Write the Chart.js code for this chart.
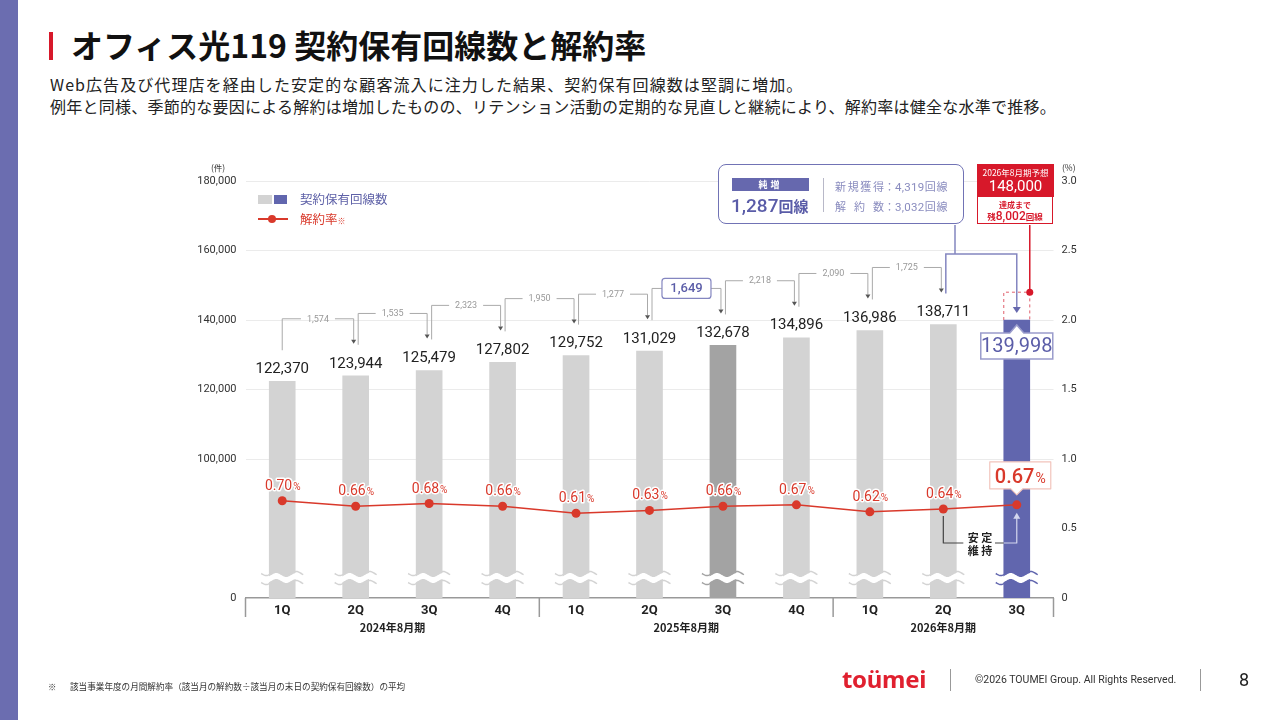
<!DOCTYPE html>
<html lang="ja">
<head>
<meta charset="utf-8">
<script src="https://cdn.jsdelivr.net/npm/chart.js@4.4.1/dist/chart.umd.min.js"></script>
<style>
  html,body{margin:0;padding:0;background:#fff;}
  body{width:1280px;height:720px;position:relative;overflow:hidden;font-family:"Noto Sans CJK JP","Noto Sans",sans-serif;color:#222;}
  .abs{position:absolute;white-space:nowrap;}
  #cv{position:absolute;left:0;top:0;}
  .jl{display:inline-block;text-align:justify;text-align-last:justify;letter-spacing:0;}
</style>
</head>
<body>
<div class="abs" style="left:0;top:0;width:18px;height:720px;background:#6b6db0;"></div>
<div class="abs" style="left:49px;top:32px;width:4px;height:28px;background:#d7182a;"></div>
<div class="abs" style="left:71px;top:26px;font-size:32px;line-height:36px;font-weight:700;color:#111;">オフィス光119 契約保有回線数と解約率</div>
<div class="abs" style="left:50px;top:73px;font-size:16px;line-height:22px;color:#222;"><span style="letter-spacing:1.08px;">Web広告及び代理店を経由した安定的な顧客流入に注力した結果、契約保有回線数は堅調に増加。</span><br><span style="letter-spacing:0.25px;">例年と同様、季節的な要因による解約は増加したものの、リテンション活動の定期的な見直しと継続により、解約率は健全な水準で推移。</span></div>

<canvas id="cv" width="1280" height="720"></canvas>

<!-- axis units -->
<div class="abs" style="left:211px;top:161px;font-size:8.5px;color:#333;">(件)</div>
<div class="abs" style="left:1062px;top:161px;font-size:8.5px;color:#333;">(%)</div>

<!-- legend -->
<div class="abs" style="left:258px;top:195px;width:14px;height:9px;background:#d3d3d3;"></div>
<div class="abs" style="left:274px;top:195px;width:13px;height:9px;background:#6166ae;"></div>
<div class="abs" style="left:300px;top:190px;font-size:12.5px;line-height:18px;color:#5f62a8;">契約保有回線数</div>
<div class="abs" style="left:258px;top:218px;width:30px;height:2px;background:#d9392b;"></div>
<div class="abs" style="left:268px;top:215px;width:8px;height:8px;border-radius:50%;background:#d9392b;"></div>
<div class="abs" style="left:300px;top:210px;font-size:12.5px;line-height:18px;color:#d9392b;">解約率<span style="font-size:8px;">※</span></div>

<!-- net increase box -->
<div class="abs" style="left:718px;top:164px;width:244px;height:58px;border:1.5px solid #7173b5;border-radius:8px;background:#fff;"></div>
<div class="abs" style="left:732px;top:178px;width:77px;height:13px;background:#6668ae;color:#fff;font-size:9px;line-height:13px;text-align:center;font-weight:700;letter-spacing:3px;">純増</div>
<div class="abs" style="left:731px;top:192px;line-height:26px;color:#5a5ca8;"><span style="font-family:Roboto;font-size:19px;font-weight:500;">1,287</span><span style="font-size:15px;font-weight:700;">回線</span></div>
<div class="abs" style="left:823px;top:178px;width:1px;height:34px;background:#b8b8c8;"></div>
<div class="abs" style="left:835px;top:177px;font-size:11px;line-height:19px;color:#8a8cbf;">
  <span class="jl" style="width:49px;">新規獲得</span>：<span style="font-family:Roboto;letter-spacing:0.3px;font-size:11.5px;">4,319</span><span style="letter-spacing:1px;">回線</span><br>
  <span class="jl" style="width:49px;">解約数</span>：<span style="font-family:Roboto;letter-spacing:0.3px;font-size:11.5px;">3,032</span><span style="letter-spacing:1px;">回線</span></div>

<!-- forecast box -->
<div class="abs" style="left:977px;top:164px;width:77px;height:33px;background:#d7182a;color:#fff;text-align:center;">
  <div style="font-size:8.5px;line-height:12px;margin-top:2px;">2026年8月期予想</div>
  <div style="font-family:Roboto;font-size:15px;line-height:17px;">148,000</div>
</div>
<div class="abs" style="left:977px;top:197px;width:74px;height:26px;border:1.5px solid #d7182a;border-top:none;background:#fff;color:#d7182a;text-align:center;">
  <div style="font-size:8px;line-height:11px;margin-top:2px;font-weight:700;">達成まで</div>
  <div style="font-size:8.5px;line-height:12px;font-weight:700;">残<span style="font-family:Roboto;font-size:12px;font-weight:500;">8,002</span>回線</div>
</div>

<!-- footer -->
<div class="abs" style="left:48px;top:680px;font-size:8.4px;line-height:12px;color:#333;">※</div>
<div class="abs" style="left:70px;top:680px;font-size:8.6px;line-height:12px;color:#333;">該当事業年度の月間解約率（該当月の解約数÷該当月の末日の契約保有回線数）の平均</div>
<div class="abs" style="left:842px;top:664px;font-family:'Noto Sans';font-size:24px;line-height:30px;font-weight:700;color:#e0202f;letter-spacing:-0.3px;">toümei</div>
<div class="abs" style="left:950px;top:669px;width:1px;height:22px;background:#999;"></div>
<div class="abs" style="left:975px;top:673px;font-family:Roboto;font-size:10.5px;line-height:14px;color:#333;">©2026 TOUMEI Group. All Rights Reserved.</div>
<div class="abs" style="left:1200px;top:669px;width:1px;height:22px;background:#999;"></div>
<div class="abs" style="left:1239px;top:667px;font-family:Roboto;font-size:18px;line-height:26px;color:#222;">8</div>

<script>
// ---- data ----
const quarters = ['1Q','2Q','3Q','4Q','1Q','2Q','3Q','4Q','1Q','2Q','3Q'];
const fiscalYears = ['2024年8月期','2025年8月期','2026年8月期'];
const fiscalGroupSizes = [4,4,3];
const lineCounts = [122370,123944,125479,127802,129752,131029,132678,134896,136986,138711,139998];
const churnRates = [0.70,0.66,0.68,0.66,0.61,0.63,0.66,0.67,0.62,0.64,0.67];
const increments = [1574,1535,2323,1950,1277,1649,2218,2090,1725];
const forecastTarget = 148000;
const leftTicks = [60000,80000,100000,120000,140000,160000,180000];
const leftTickLabels = ['0','','100,000','120,000','140,000','160,000','180,000'];

// ---- style ----
const GRAY = '#d3d3d3', DARK = '#a3a3a3', PURPLE = '#6166ae', RED = '#d9392b';
const barColors = lineCounts.map((v,i)=> i===lineCounts.length-1 ? PURPLE : (i===6 ? DARK : GRAY));
const NUM = 'Roboto, "Noto Sans", sans-serif';
const JP = '"Noto Sans CJK JP", sans-serif';
const fmt = v => v.toLocaleString('en-US');

function wave(ctx, x0, x1, y, amp, period){
  ctx.moveTo(x0, y);
  for(let x=x0; x<=x1; x+=1){
    ctx.lineTo(x, y + amp*Math.sin((x-x0)/period*2*Math.PI));
  }
}
function arrowDown(ctx, x, y, w, h, color){
  ctx.fillStyle=color; ctx.beginPath();
  ctx.moveTo(x-w/2, y-h); ctx.lineTo(x+w/2, y-h); ctx.lineTo(x, y); ctx.closePath(); ctx.fill();
}
function arrowUp(ctx, x, y, w, h, color){
  ctx.fillStyle=color; ctx.beginPath();
  ctx.moveTo(x-w/2, y+h); ctx.lineTo(x+w/2, y+h); ctx.lineTo(x, y); ctx.closePath(); ctx.fill();
}
function pctLabel(ctx, x, y, val, big, bold){
  const n = val.toFixed(2), p = '%';
  ctx.font = (bold?'500 ':'')+big+'px '+NUM;
  const wn = ctx.measureText(n).width;
  const ps = Math.round(big*0.7);
  ctx.font = ps+'px '+NUM;
  const wp = ctx.measureText(p).width;
  const sx = x - (wn+wp)/2;
  ctx.textBaseline='alphabetic'; ctx.textAlign='left';
  const base = y + big*0.36;
  ctx.lineJoin='round';
  ctx.font = (bold?'500 ':'')+big+'px '+NUM;
  ctx.strokeStyle='#fff'; ctx.lineWidth=3; ctx.strokeText(n, sx, base);
  ctx.fillStyle=RED; ctx.fillText(n, sx, base);
  ctx.font = ps+'px '+NUM;
  ctx.strokeText(p, sx+wn+1, base); ctx.fillText(p, sx+wn+1, base);
}

const deco = {
  id:'deco',
  afterDatasetsDraw(chart){
    const ctx = chart.ctx;
    const xs = chart.scales.x, ys = chart.scales.y, ya = chart.chartArea;
    const bars = chart.getDatasetMeta(1).data;
    const pts = chart.getDatasetMeta(0).data;
    const n = bars.length;
    ctx.save();

    // wavy break marks
    bars.forEach((b,i)=>{
      const x0 = b.x - b.width/2 - 8, x1 = b.x + b.width/2 + 8;
      const yb = ya.bottom - 20;
      ctx.fillStyle='#fff';
      ctx.beginPath();
      wave(ctx, x0, x1, yb-3, 2, 20);
      for(let x=x1; x>=x0; x-=1){ ctx.lineTo(x, yb+3 + 2*Math.sin((x-x0)/20*2*Math.PI)); }
      ctx.closePath(); ctx.fill();
      ctx.strokeStyle = barColors[i]; ctx.lineWidth=1.5;
      ctx.beginPath(); wave(ctx, x0, x1, yb-4.5, 2, 20); ctx.stroke();
      ctx.beginPath(); wave(ctx, x0, x1, yb+4.5, 2, 20); ctx.stroke();
    });

    // x-axis group separators and fiscal year labels
    const step = xs.getPixelForValue(1) - xs.getPixelForValue(0);
    let idx = 0;
    const seps = [ya.left];
    ctx.font = '700 11px '+JP; ctx.fillStyle='#222'; ctx.textAlign='center'; ctx.textBaseline='middle';
    fiscalGroupSizes.forEach((g,k)=>{
      const l = xs.getPixelForValue(idx) - step/2;
      const r = xs.getPixelForValue(idx+g-1) + step/2;
      ctx.fillText(fiscalYears[k], (l+r)/2, ya.bottom + 30);
      seps.push(r);
      idx += g;
    });
    ctx.strokeStyle='#999'; ctx.lineWidth=1.5;
    seps.forEach(x=>{ ctx.beginPath(); ctx.moveTo(x, ya.bottom); ctx.lineTo(x, ya.bottom+19); ctx.stroke(); });

    // bar value labels
    ctx.textAlign='center'; ctx.textBaseline='middle';
    bars.forEach((b,i)=>{
      if(i===n-1) return;
      ctx.font = '15px '+NUM; ctx.fillStyle='#222';
      ctx.fillText(fmt(lineCounts[i]), b.x, b.y - 12);
    });

    // increment brackets
    increments.forEach((inc,k)=>{
      const b0 = bars[k], b1 = bars[k+1];
      const sx = k===0 ? b0.x : b0.x + 2.5;
      const sy = b0.y - 31;
      const ex = b1.x - 2;
      const ey = b1.y - 32;
      const lv = b1.y - 57;
      const mx = (sx+ex)/2;
      const boxed = (k===5);
      ctx.font = boxed ? '500 13px '+NUM : '9px '+NUM;
      const tw = ctx.measureText(fmt(inc)).width;
      const half = boxed ? 24.5 : tw/2 + 6;
      ctx.strokeStyle='#aaa'; ctx.lineWidth=1;
      ctx.beginPath();
      ctx.moveTo(sx, sy); ctx.lineTo(sx, lv); ctx.lineTo(mx-half, lv);
      ctx.moveTo(mx+half, lv); ctx.lineTo(ex, lv); ctx.lineTo(ex, ey-4);
      ctx.stroke();
      arrowDown(ctx, ex, ey, 5, 4, '#555');
      if(boxed){
        ctx.strokeStyle='#8486c0'; ctx.lineWidth=1.2; ctx.fillStyle='#fff';
        ctx.beginPath(); ctx.roundRect(mx-half, lv-10, half*2, 20, 3); ctx.fill(); ctx.stroke();
        ctx.fillStyle='#5b5da8';
      } else ctx.fillStyle='#999';
      ctx.textAlign='center'; ctx.textBaseline='middle';
      ctx.fillText(fmt(inc), mx, lv+0.5);
    });

    // final (purple) bracket into last bar
    const bp = bars[n-2], bl = bars[n-1];
    const lvP = 254;
    ctx.strokeStyle='#8486c0'; ctx.lineWidth=1.5;
    ctx.beginPath();
    ctx.moveTo(bp.x+2.5, bp.y-31); ctx.lineTo(bp.x+2.5, lvP); ctx.lineTo(bl.x, lvP); ctx.lineTo(bl.x, bl.y-13);
    ctx.moveTo(955, 225); ctx.lineTo(955, lvP);
    ctx.stroke();
    arrowDown(ctx, bl.x, bl.y-7, 8, 6, '#6668ae');

    // forecast target dashed box + red line
    const yt = ys.getPixelForValue(forecastTarget);
    const bx0 = bl.x - bl.width/2, bx1 = bl.x + bl.width/2;
    ctx.strokeStyle='#e0606c'; ctx.lineWidth=1; ctx.setLineDash([3,3]);
    ctx.beginPath(); ctx.moveTo(bx0, bl.y); ctx.lineTo(bx0, yt); ctx.lineTo(bx1, yt); ctx.lineTo(bx1, bl.y); ctx.stroke();
    ctx.setLineDash([]);
    ctx.strokeStyle='#d7182a'; ctx.lineWidth=1.5;
    ctx.beginPath(); ctx.moveTo(bx1, 225); ctx.lineTo(bx1, yt); ctx.stroke();
    ctx.fillStyle='#d7182a'; ctx.beginPath(); ctx.arc(bx1, yt, 3.5, 0, Math.PI*2); ctx.fill();

    // last bar value box
    const cy = bl.y + 26;
    ctx.fillStyle='#fff'; ctx.strokeStyle='#9a9ccc'; ctx.lineWidth=1.5;
    ctx.beginPath();
    ctx.moveTo(bl.x-36, cy-13); ctx.lineTo(bl.x-7, cy-13); ctx.lineTo(bl.x, cy-21); ctx.lineTo(bl.x+7, cy-13);
    ctx.lineTo(bl.x+36, cy-13); ctx.lineTo(bl.x+36, cy+13); ctx.lineTo(bl.x-36, cy+13); ctx.closePath();
    ctx.fill(); ctx.stroke();
    ctx.fillStyle='#5b5da8'; ctx.font='20px '+NUM; ctx.textAlign='center'; ctx.textBaseline='middle';
    ctx.fillText(fmt(lineCounts[n-1]), bl.x, cy+1);

    // churn labels
    pts.forEach((p,i)=>{
      if(i===pts.length-1) return;
      pctLabel(ctx, p.x, p.y-16, churnRates[i], 14, false);
    });
    // last churn label box
    const pl = pts[pts.length-1];
    const ly = pl.y - 29;
    ctx.fillStyle='#fff'; ctx.strokeStyle='#f2c4bc'; ctx.lineWidth=1.2;
    ctx.beginPath();
    ctx.moveTo(pl.x-27, ly-14); ctx.lineTo(pl.x+34, ly-14); ctx.lineTo(pl.x+34, ly+13);
    ctx.lineTo(pl.x+6, ly+13); ctx.lineTo(pl.x, ly+19); ctx.lineTo(pl.x-6, ly+13); ctx.lineTo(pl.x-27, ly+13); ctx.closePath();
    ctx.fill(); ctx.stroke();
    pctLabel(ctx, pl.x+3, ly, churnRates[pts.length-1], 20, true);

    // 安定維持 annotation
    const p9 = pts[pts.length-2];
    const ay = 543;
    ctx.strokeStyle='#444'; ctx.lineWidth=1.2;
    ctx.beginPath(); ctx.moveTo(p9.x, p9.y+7); ctx.lineTo(p9.x, ay); ctx.lineTo(p9.x+20, ay);
    ctx.moveTo(995, ay); ctx.lineTo(bx0, ay); ctx.stroke();
    ctx.strokeStyle='#d4d6ee';
    ctx.beginPath(); ctx.moveTo(bx0, ay); ctx.lineTo(pl.x, ay); ctx.lineTo(pl.x, pl.y+13); ctx.stroke();
    arrowUp(ctx, pl.x, pl.y+8, 7, 6, '#d4d6ee');
    ctx.fillStyle='#222'; ctx.font='700 11px '+JP; ctx.textAlign='center'; ctx.textBaseline='middle';
    ctx.fillText('安 定', 980, ay-5);
    ctx.fillText('維 持', 980, ay+8);

    ctx.restore();
  }
};

new Chart(document.getElementById('cv'), {
  data:{
    labels: quarters,
    datasets:[
      { type:'line', label:'解約率', data: churnRates, yAxisID:'y1', order:0,
        borderColor: RED, borderWidth:1.5, pointRadius:4.5, pointBackgroundColor: RED, pointBorderWidth:0, tension:0 },
      { type:'bar', label:'契約保有回線数', data: lineCounts, yAxisID:'y', order:1,
        backgroundColor: barColors, barThickness:26, borderWidth:0 }
    ]
  },
  options:{
    responsive:false, animation:false,
    layout:{ padding:{ left:185.5, right:171.5, top:181, bottom:92 } },
    plugins:{ legend:{display:false}, tooltip:{enabled:false} },
    scales:{
      x:{
        offset:true,
        grid:{ display:false, drawTicks:false },
        border:{ display:true, color:'#999', width:1.5 },
        ticks:{ color:'#222', font:{ family:NUM, size:13, weight:'bold' }, padding:5, maxRotation:0 },
        afterFit(s){ s.height = 30; }
      },
      y:{
        position:'left', min:60000, max:180000,
        afterBuildTicks(s){ s.ticks = leftTicks.map(v=>({value:v})); },
        grid:{ drawTicks:false, color: c => (c.tick && c.tick.value>=100000) ? '#ebebeb' : 'rgba(0,0,0,0)' },
        border:{ display:false },
        ticks:{ padding:9, color:'#333', font:{ family:NUM, size:11 },
          callback:(v)=> { const k = leftTicks.indexOf(v); return k>=0 ? leftTickLabels[k] : ''; } },
        afterFit(s){ s.width = 60; }
      },
      y1:{
        position:'right', min:0, max:3,
        ticks:{ stepSize:0.5, padding:8, color:'#333', font:{ family:NUM, size:11 },
          callback:(v)=> v===0 ? '0' : Number(v).toFixed(1) },
        grid:{ display:false, drawTicks:false },
        border:{ display:false },
        afterFit(s){ s.width = 55; }
      }
    }
  },
  plugins:[deco]
});
</script>
</body>
</html>
